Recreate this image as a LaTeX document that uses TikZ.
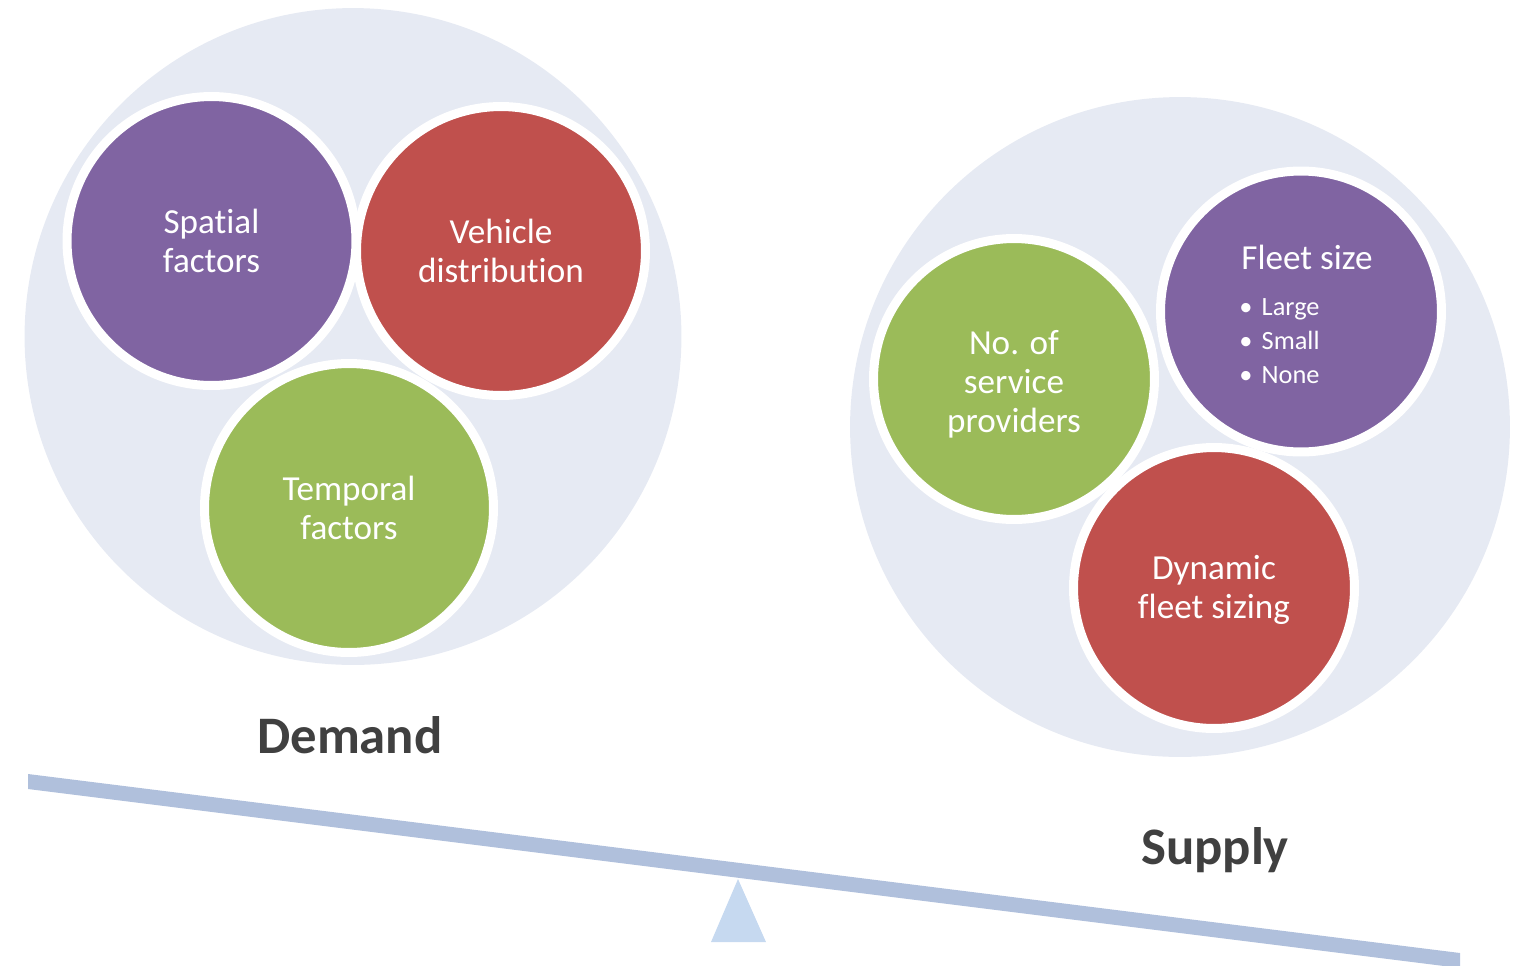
\documentclass[tikz,border=0pt]{standalone}
\usepackage{fontspec}
\setmainfont[Ligatures=NoCommon]{Carlito}
\usepackage{xcolor}

\definecolor{purp}{HTML}{8064A2}
\definecolor{brick}{HTML}{C0504D}
\definecolor{olive}{HTML}{9BBB59}
\definecolor{haze}{HTML}{E6EAF3}
\definecolor{beamblue}{HTML}{B0C0DC}
\definecolor{pivotblue}{HTML}{C6D9F0}
\definecolor{ink}{HTML}{404040}

\begin{document}
\begin{tikzpicture}[x=0.02cm,y=-0.02cm,
  zone/.style={circle,fill=haze,inner sep=0pt},
  bubble/.style={circle,draw=white,line width=0.18cm,inner sep=0pt,align=center,text=white,font=\fontsize{20}{22.2}\selectfont},
  bigbubble/.style={bubble,minimum size=5.78cm},
  smallbubble/.style={bubble,minimum size=5.62cm},
  bubbletext/.style={align=center,text=white,font=\fontsize{20}{22.2}\selectfont},
  heading/.style={text=ink,font=\fontsize{30}{36}\selectfont\bfseries}]

\useasboundingbox (0,0) rectangle (1526,965);

%% the two groups
\node[zone,minimum size=13.14cm](demandzone)at(353,336.5){};
\node[zone,minimum size=13.2cm](supplyzone)at(1180,427){};

\node[bigbubble,fill=purp](spatial)at(211.5,241){Spatial\\factors};
\node[bigbubble,fill=brick](vehicle)at(501,251){Vehicle\\distribution};
\node[bigbubble,fill=olive](temporal)at(349,508){Temporal\\factors};

\node[smallbubble,fill=olive](providers)at(1014,379){};
\node[smallbubble,fill=purp](fleet)at(1301,311.5){};
\node[smallbubble,fill=brick](dynamic)at(1214,588){};

\node[bubbletext](providerstext)at(1014,384){No. of\\service\\providers};
\node[bubbletext](dynamictext)at(1214,590){Dynamic\\fleet sizing};
\node[bubbletext](fleettitle)at(1307,257){Fleet size};
\node[text=white,align=left,anchor=west,inner sep=0pt,font=\fontsize{15}{19.3}\selectfont](fleetlist)at(1239,341)
  {\textbullet\hspace{0.35em}Large\\\textbullet\hspace{0.35em}Small\\\textbullet\hspace{0.35em}None};

\node[heading](demandlabel)at(350,735){Demand};
\node[heading](supplylabel)at(1215,850){Supply};

%% tilted beam and pivot
\coordinate(A)at(28,774);
\coordinate(B)at(1460,953);
\coordinate(C)at(1460,968);
\coordinate(D)at(28,789);
\coordinate(P)at(738,879);
\coordinate(L)at(711,942);
\coordinate(R)at(766,942);

\fill[beamblue](A)--(B)--(C)--(D)--cycle;
\fill[pivotblue](P)--(R)--(L)--cycle;
\end{tikzpicture}
\end{document}
